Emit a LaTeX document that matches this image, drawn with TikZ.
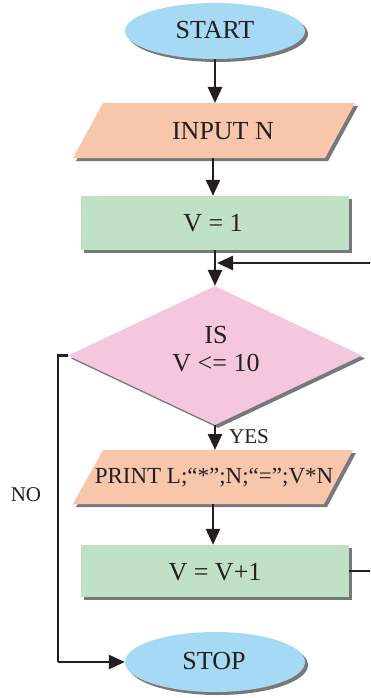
\documentclass[tikz,border=0pt]{standalone}
\usepackage{fontspec}
\setmainfont{Liberation Serif}
\usetikzlibrary{shapes.geometric,shadows,arrows.meta}
\definecolor{cblue}{HTML}{A6D9F4}
\definecolor{corange}{HTML}{F7C6AB}
\definecolor{cgreen}{HTML}{C1E1C6}
\definecolor{cpink}{HTML}{F5C7DF}
\definecolor{cshadow}{HTML}{77787B}
\definecolor{cink}{HTML}{231F20}
\tikzset{
  shd/.style={drop shadow={shadow xshift=3pt,shadow yshift=-3pt,fill=cshadow,opacity=1}},
  term/.style={ellipse,fill=cblue,shd,minimum width=180pt,inner sep=0pt},
  proc/.style={rectangle,fill=cgreen,shd,minimum width=268pt,inner sep=0pt},
  decide/.style={diamond,fill=cpink,shd,minimum width=294pt,minimum height=139pt,inner sep=0pt},
  txt/.style={text=cink,font=\fontsize{26}{28}\selectfont,align=center,inner sep=0pt},
  small/.style={text=cink,font=\fontsize{21}{24}\selectfont,inner sep=0pt},
  conn/.style={draw=cink,line width=2.5pt},
  arr/.style={conn,-{Triangle[length=16pt,width=14pt]}},
}
\begin{document}
\begin{tikzpicture}[x=1pt,y=-1pt]
\useasboundingbox (0,0) rectangle (370,698);
\clip (0,0) rectangle (370,698);
% start
\node[term,minimum height=56pt] (start) at (215,31) {};
\node[txt] (startt) at (215,30) {START};
% input parallelogram
\fill[cshadow] (106,106) -- (358,106) -- (328,161) -- (76,161) -- cycle;
\fill[corange] (103,103) -- (355,103) -- (325,158) -- (73,158) -- cycle;
\node[txt] (input) at (223,131) {INPUT N};
\coordinate (inputtop) at (215,103);
\coordinate (inputbot) at (213,158);
% v = 1
\node[proc,minimum height=54pt] (v1) at (215,223) {};
\node[txt] (v1t) at (213,223) {V = 1};
% decision
\node[decide] (dec) at (215,355.5) {};
\node[txt] (dect) at (216,349) {IS\\V <= 10};
% print parallelogram
\fill[cshadow] (106,453) -- (356,453) -- (327,507) -- (76,507) -- cycle;
\fill[corange] (103,450) -- (353,450) -- (324,504) -- (73,504) -- cycle;
\node[txt,font=\fontsize{23}{26}\selectfont] (print) at (214,478) {PRINT L;“*”;N;“=”;V*N};
\coordinate (printtop) at (215,450);
\coordinate (printbot) at (213,504);
% v = v+1
\node[proc,minimum height=52pt] (inc) at (215,571) {};
\node[txt] (inct) at (215,572) {V = V+1};
% stop
\node[term,minimum height=60pt] (stop) at (215,662) {};
\node[txt] (stopt) at (214,661) {STOP};
% labels
\node[small] (yes) at (249,437) {YES};
\node[small] (no) at (26,495) {NO};
% connectors
\coordinate (join) at (217,263);
\coordinate (loopa) at (374,571);
\coordinate (loopb) at (374,263);
\coordinate (nol) at (58,355.5);
\coordinate (nob) at (58,662);
\draw[arr] (start.south) -- (inputtop);
\draw[arr] (inputbot) -- (inputbot |- v1.north);
\draw[arr] (v1.south) -- (dec.north);
\draw[arr] (dec.south) -- (printtop);
\draw[arr] (printbot) -- (printbot |- inc.north);
\draw[conn] (inc.east) -- (loopa) -- (loopb);
\draw[arr] (loopb) -- (join);
\draw[conn] (dec.west) -- (nol) -- (nob);
\draw[arr] (nob) -- (stop.west);
\end{tikzpicture}
\end{document}
